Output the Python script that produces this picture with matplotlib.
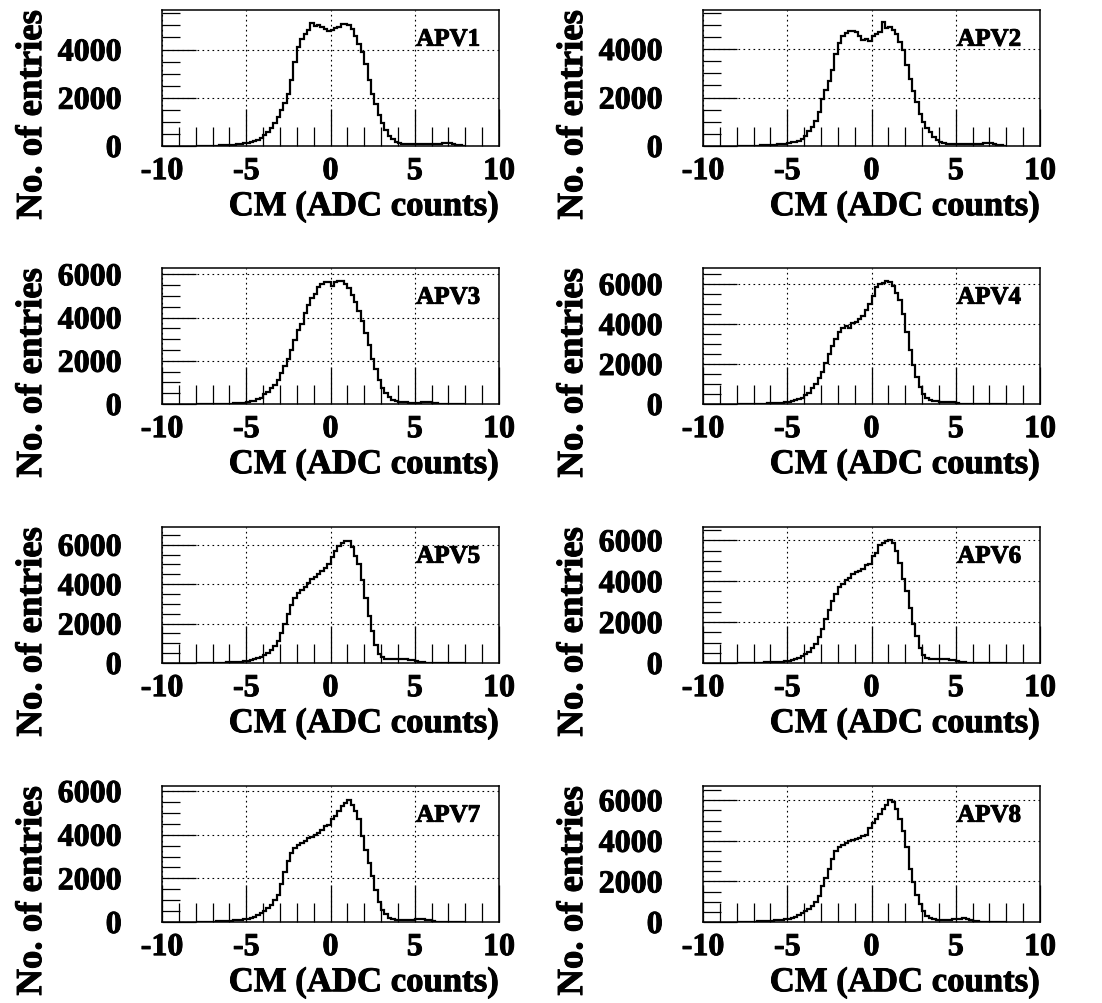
"""
Common-mode noise distributions of the eight APV25 chips (ROOT-style 4x2 grid).
Output: out.png
"""

import matplotlib
matplotlib.use("Agg")
import matplotlib.pyplot as plt
import matplotlib.patheffects as pe
from matplotlib.ticker import MultipleLocator
import numpy as np

plt.rcParams.update({
    "font.family": "Liberation Serif",
    "font.weight": "bold",
    "axes.unicode_minus": False,
})

# Histogram binning: 0.2 ADC-count bins, only the -8..8 range holds entries.
BIN_LO, BIN_HI, N_BINS = -8.0, 8.0, 80

# Counts per bin (five bins = one ADC count per row).
apv1 = [0, 0, 0, 5, 10,
        15, 20, 25, 30, 40,
        50, 60, 75, 90, 105,
        120, 150, 190, 250, 330,
        450, 600, 760, 950, 1200,
        1500, 1800, 2150, 2750, 3500,
        4100, 4450, 4650, 4800, 5100,
        4980, 5030, 4920, 4840, 4770,
        4820, 4890, 4950, 5080, 5050,
        5020, 4850, 4550, 4250, 3900,
        3400, 2750, 2150, 1750, 1300,
        950, 650, 430, 280, 180,
        120, 90, 80, 75, 72,
        72, 70, 68, 66, 68,
        75, 85, 100, 115, 120,
        105, 80, 50, 25, 10]
apv2 = [0, 0, 0, 5, 10,
        15, 20, 25, 30, 35,
        45, 55, 65, 80, 100,
        125, 145, 175, 220, 290,
        420, 600, 800, 1050, 1400,
        1950, 2300, 2700, 3150, 3800,
        4250, 4550, 4680, 4740, 4750,
        4700, 4550, 4380, 4400, 4320,
        4550, 4620, 4720, 5100, 4880,
        4900, 4800, 4600, 4300, 3950,
        3350, 2750, 2250, 1800, 1300,
        970, 750, 560, 380, 250,
        170, 115, 95, 85, 80,
        75, 72, 70, 68, 68,
        70, 80, 100, 125, 140,
        120, 90, 55, 25, 10]
apv3 = [0, 0, 0, 0, 0,
        5, 8, 10, 12, 15,
        20, 25, 30, 40, 50,
        80, 120, 160, 210, 270,
        450, 560, 720, 880, 1100,
        1450, 1750, 2100, 2500, 2950,
        3400, 3700, 4200, 4600, 4900,
        5100, 5400, 5550, 5630, 5650,
        5480, 5620, 5700, 5680, 5550,
        5350, 5050, 4700, 4300, 3850,
        3300, 2750, 2100, 1600, 1100,
        750, 500, 330, 190, 120,
        90, 75, 70, 65, 65,
        65, 68, 75, 90, 100,
        60, 25, 10, 5, 0,
        0, 0, 0, 0, 0]
apv4 = [0, 0, 0, 0, 5,
        10, 15, 20, 25, 30,
        40, 50, 60, 70, 85,
        110, 150, 190, 230, 290,
        440, 560, 780, 1000, 1300,
        1600, 2050, 2500, 2900, 3250,
        3600, 3780, 3900, 3780, 4050,
        4100, 4250, 4400, 4700, 5000,
        5400, 5850, 6000, 6050, 6170,
        6100, 5900, 5550, 5200, 4500,
        3600, 2700, 1950, 1350, 850,
        500, 300, 190, 150, 135,
        125, 120, 115, 105, 90,
        50, 20, 10, 5, 0,
        0, 0, 0, 0, 0,
        0, 0, 0, 0, 0]
apv5 = [0, 0, 0, 0, 5,
        10, 15, 20, 25, 30,
        40, 50, 60, 75, 95,
        120, 150, 190, 250, 320,
        400, 530, 680, 850, 1100,
        1500, 2000, 2500, 2950, 3300,
        3550, 3700, 3850, 4050, 4250,
        4350, 4500, 4650, 4800, 5000,
        5400, 5700, 5950, 6100, 6200,
        6200, 5900, 5450, 5000, 4200,
        3300, 2400, 1600, 900, 450,
        280, 200, 180, 180, 180,
        180, 180, 180, 175, 160,
        110, 60, 30, 15, 5,
        0, 0, 0, 0, 0,
        0, 0, 0, 0, 0]
apv6 = [0, 0, 0, 0, 5,
        10, 15, 20, 25, 30,
        40, 50, 60, 70, 85,
        110, 150, 200, 260, 330,
        420, 560, 720, 950, 1250,
        1650, 2150, 2600, 3050, 3350,
        3700, 3880, 4050, 4150, 4350,
        4450, 4520, 4620, 4780, 4860,
        5250, 5400, 5750, 5850, 5950,
        6000, 5850, 5500, 4900, 4100,
        3500, 2700, 1900, 1300, 750,
        380, 250, 210, 190, 180,
        180, 180, 175, 170, 160,
        120, 70, 35, 15, 5,
        0, 0, 0, 0, 0,
        0, 0, 0, 0, 0]
apv7 = [0, 0, 5, 10, 15,
        20, 25, 30, 40, 50,
        60, 70, 85, 100, 120,
        150, 190, 240, 310, 390,
        500, 640, 800, 1000, 1250,
        1750, 2300, 2800, 3150, 3400,
        3530, 3600, 3700, 3830, 3900,
        3980, 4060, 4200, 4400, 4450,
        4700, 4850, 5100, 5300, 5450,
        5600, 5350, 5100, 4700, 3950,
        3300, 2700, 2100, 1450, 900,
        550, 350, 200, 120, 95,
        90, 90, 90, 95, 100,
        120, 140, 130, 100, 70,
        40, 20, 5, 0, 0,
        0, 0, 0, 0, 0]
apv8 = [0, 0, 5, 10, 15,
        20, 30, 40, 50, 60,
        70, 85, 100, 120, 140,
        170, 210, 260, 330, 420,
        520, 650, 800, 1000, 1300,
        1750, 2150, 2600, 3100, 3500,
        3680, 3800, 3900, 3980, 4050,
        4100, 4150, 4220, 4300, 4650,
        4900, 5070, 5340, 5590, 5750,
        6000, 5900, 5550, 5050, 4500,
        3700, 2600, 1950, 1350, 900,
        520, 320, 200, 130, 110,
        100, 100, 100, 110, 130,
        150, 170, 180, 150, 110,
        70, 40, 20, 5, 0,
        0, 0, 0, 0, 0]

apv_names = ["APV1", "APV2", "APV3", "APV4", "APV5", "APV6", "APV7", "APV8"]
apv_counts = [apv1, apv2, apv3, apv4, apv5, apv6, apv7, apv8]
y_max = [5640, 5610, 6290, 6800, 6900, 6650, 6230, 6700]

# Pad geometry in pixels of the 1102x1004 canvas.
W, H = 1102, 1004
COL_LEFT = [162, 703]
ROW_TOP = [11, 269, 528, 787]
AX_W, AX_H = 337, 136

GRID_STYLE = dict(color="black", lw=0.8, ls=(0, (1.5, 3)))
# ROOT's bold Times renders heavier than Liberation Serif Bold; thicken a bit.
HEAVY = [pe.withStroke(linewidth=0.7, foreground="black")]


def draw_pad(ax, name, counts, ymax):
    edges = np.linspace(BIN_LO, BIN_HI, N_BINS + 1)
    ax.stairs(counts, edges, color="black", lw=1.6, zorder=3)
    ax.set_xlim(-10, 10)
    ax.set_ylim(0, ymax)

    ax.xaxis.set_major_locator(MultipleLocator(5))
    ax.xaxis.set_minor_locator(MultipleLocator(1))
    ax.yaxis.set_major_locator(MultipleLocator(2000))
    ax.yaxis.set_minor_locator(MultipleLocator(500))
    ax.tick_params(which="both", direction="in", top=False, right=False,
                   width=0.9, labelsize=23)
    ax.tick_params(axis="x", which="major", length=27, pad=8)
    ax.tick_params(axis="x", which="minor", length=13.5)
    ax.tick_params(axis="y", which="major", length=24.5, pad=29)
    ax.tick_params(axis="y", which="minor", length=13)
    for lab in ax.get_xticklabels() + ax.get_yticklabels():
        lab.set_fontweight("bold")
        lab.set_path_effects(HEAVY)

    ax.grid(True, which="major", **GRID_STYLE)
    for sp in ax.spines.values():
        sp.set_linewidth(1.1)

    ax.set_xlabel("CM (ADC counts)", fontsize=25, fontweight="bold", loc="right",
                  path_effects=HEAVY)
    ax.xaxis.set_label_coords(1.0, -0.325)
    ax.set_ylabel("No. of entries", fontsize=26.5, fontweight="bold", loc="top",
                  path_effects=HEAVY)
    ax.yaxis.set_label_coords(-0.335, 1.0)

    ax.text(0.944, 0.87, name, transform=ax.transAxes, ha="right", va="top",
            fontsize=18, fontweight="bold", zorder=4, path_effects=HEAVY)


def main():
    fig = plt.figure(figsize=(W / 100, H / 100), dpi=100)
    for i, (name, counts, ymax) in enumerate(zip(apv_names, apv_counts, y_max)):
        row, col = divmod(i, 2)
        left = COL_LEFT[col] / W
        bottom = 1 - (ROW_TOP[row] + AX_H) / H
        ax = fig.add_axes([left, bottom, AX_W / W, AX_H / H])
        draw_pad(ax, name, counts, ymax)
    fig.savefig("out.png", dpi=100)
    plt.close(fig)


if __name__ == "__main__":
    main()
